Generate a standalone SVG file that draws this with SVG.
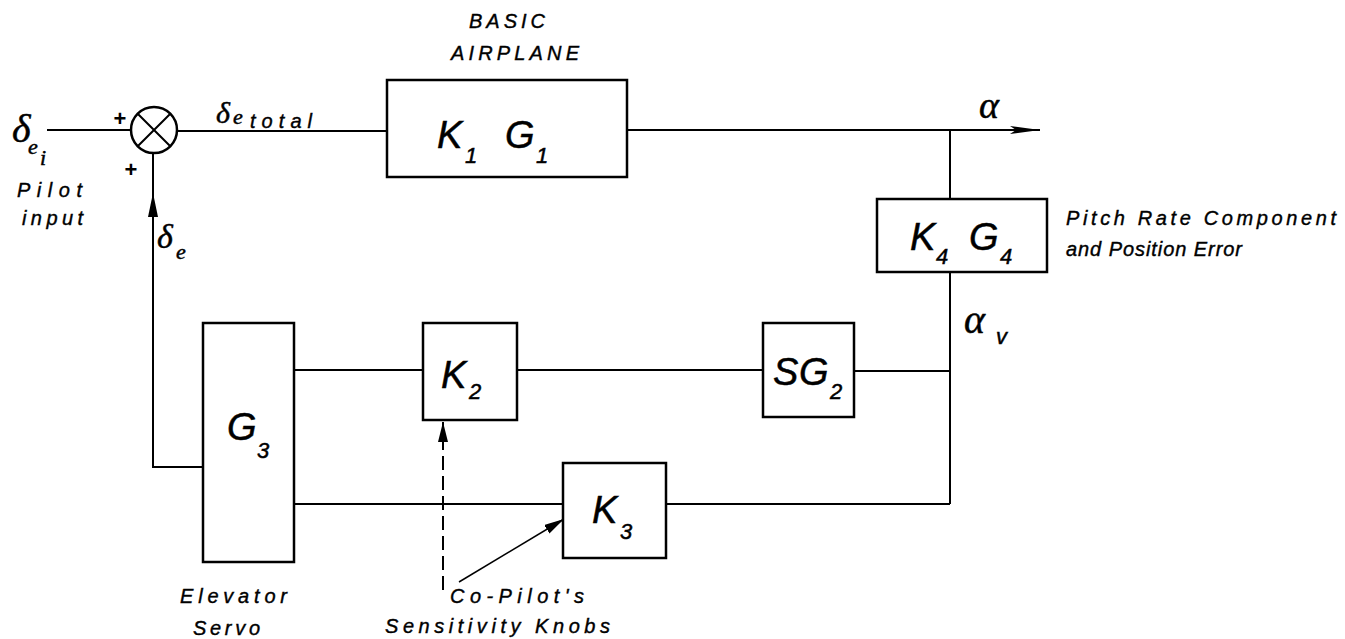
<svg xmlns="http://www.w3.org/2000/svg" width="1345" height="639" viewBox="0 0 1345 639">
<style>
.ln{fill:none;stroke:#000;stroke-width:2}
.bx{fill:#fff;stroke:#000;stroke-width:2.5}
.dash{fill:none;stroke:#000;stroke-width:2;stroke-dasharray:14 6}
.thin{fill:none;stroke:#000;stroke-width:1.5}
.lbl{font-family:"Liberation Sans",Arial,sans-serif;font-style:italic;font-size:20px;fill:#000;stroke:#000;stroke-width:0.4}
.m{font-family:"Liberation Sans",Arial,sans-serif;font-style:italic;font-size:38px;fill:#000;stroke:#000;stroke-width:0.5}
.s{font-family:"Liberation Sans",Arial,sans-serif;font-style:italic;font-size:22px;fill:#000;stroke:#000;stroke-width:0.5}
.g{font-family:"Liberation Serif","DejaVu Serif",serif;font-style:italic;fill:#000;stroke:#000;stroke-width:0.5}
.pl{font-family:"Liberation Sans",Arial,sans-serif;font-weight:bold;font-size:22px;fill:#000}
</style>
<defs>
<marker id="ah" viewBox="0 0 20 10" refX="20" refY="5" markerWidth="20" markerHeight="10" markerUnits="userSpaceOnUse" orient="auto"><path d="M0,0 L20,5 L0,10 z" fill="#000"/></marker>
<marker id="ah2" viewBox="0 0 30 10" refX="30" refY="5" markerWidth="30" markerHeight="10" markerUnits="userSpaceOnUse" orient="auto"><path d="M0,1 L30,5 L0,9 L6,5 z" fill="#000"/></marker>
</defs>

<g id="connectors">
<path class="ln" d="M47 130 H131"/>
<path class="ln" d="M177 131 H387"/>
<path class="ln" d="M627 130 H1040" marker-end="url(#ah2)"/>
<path class="ln" d="M950 130 V199"/>
<path class="ln" d="M950 272 V504"/>
<path class="ln" d="M294 370 H423"/>
<path class="ln" d="M517 370 H763"/>
<path class="ln" d="M854 371 H950"/>
<path class="ln" d="M294 504 H563"/>
<path class="ln" d="M666 504 H950"/>
<path class="ln" d="M204 467 H153 V153"/>
<polygon points="153,193 148,217 158,217" fill="#000"/>
<path class="dash" d="M443 590 V422" marker-end="url(#ah)"/>
<path class="thin" d="M459 582 L564 519" marker-end="url(#ah)"/>
</g>

<g id="sum">
<circle cx="154" cy="130" r="23" fill="#fff" stroke="#000" stroke-width="2.5"/>
<path class="ln" d="M137.7 113.7 L170.3 146.3 M170.3 113.7 L137.7 146.3" stroke-width="2.5"/>
<text class="pl" x="120" y="126" text-anchor="middle">+</text>
<text class="pl" x="131" y="177" text-anchor="middle">+</text>
</g>

<g id="input-label">
<text class="g" x="12" y="142" font-size="40">δ</text>
<text class="g" x="28" y="154" font-size="22">e</text>
<text class="g" x="40" y="165" font-size="22">i</text>
<text class="lbl" x="17" y="197" textLength="65" lengthAdjust="spacing">Pilot</text>
<text class="lbl" x="22" y="225" textLength="61" lengthAdjust="spacing">input</text>
</g>

<g id="total-label">
<text class="g" x="216" y="123" font-size="30">δ</text>
<text class="g" x="233" y="124" font-size="22">e</text>
<text class="lbl" x="250" y="128" textLength="62" lengthAdjust="spacing">total</text>
</g>

<g id="fb-label">
<text class="g" x="157" y="248" font-size="34">δ</text>
<text class="g" x="176" y="259" font-size="22">e</text>
</g>

<g id="airplane">
<text class="lbl" x="469" y="28" textLength="76" lengthAdjust="spacing">BASIC</text>
<text class="lbl" x="451" y="60" textLength="128" lengthAdjust="spacing">AIRPLANE</text>
<rect class="bx" x="387" y="80" width="240" height="97"/>
<text class="m" x="437" y="148">K</text>
<text class="s" x="465" y="163">1</text>
<text class="m" x="505" y="148">G</text>
<text class="s" x="536" y="163">1</text>
</g>

<g id="alpha-out">
<text class="g" x="979" y="118" font-size="38">α</text>
</g>

<g id="k4g4">
<rect class="bx" x="877" y="199" width="170" height="73"/>
<text class="m" x="910" y="250">K</text>
<text class="s" x="936" y="264">4</text>
<text class="m" x="969" y="250">G</text>
<text class="s" x="1000" y="264">4</text>
<text class="lbl" x="1066" y="225" textLength="270" lengthAdjust="spacing">Pitch Rate Component</text>
<text class="lbl" x="1066" y="256" textLength="176" lengthAdjust="spacing">and Position Error</text>
</g>

<g id="alpha-v">
<text class="g" x="964" y="333" font-size="40">α</text>
<text class="s" x="996" y="344">v</text>
</g>

<g id="g3">
<rect class="bx" x="203" y="323" width="91" height="239"/>
<text class="m" x="227" y="440">G</text>
<text class="s" x="257" y="458">3</text>
<text class="lbl" x="180" y="603" textLength="107" lengthAdjust="spacing">Elevator</text>
<text class="lbl" x="193" y="635" textLength="67" lengthAdjust="spacing">Servo</text>
</g>

<g id="k2">
<rect class="bx" x="423" y="323" width="94" height="97"/>
<text class="m" x="441" y="388">K</text>
<text class="s" x="469" y="399">2</text>
</g>

<g id="sg2">
<rect class="bx" x="763" y="323" width="91" height="94"/>
<text class="m" x="773" y="385">S</text>
<text class="m" x="799" y="385">G</text>
<text class="s" x="830" y="399">2</text>
</g>

<g id="k3">
<rect class="bx" x="563" y="463" width="103" height="95"/>
<text class="m" x="592" y="523">K</text>
<text class="s" x="620" y="539">3</text>
</g>

<g id="knobs-label">
<text class="lbl" x="450" y="603" textLength="134" lengthAdjust="spacing">Co-Pilot's</text>
<text class="lbl" x="385" y="633" textLength="225" lengthAdjust="spacing">Sensitivity Knobs</text>
</g>
</svg>
